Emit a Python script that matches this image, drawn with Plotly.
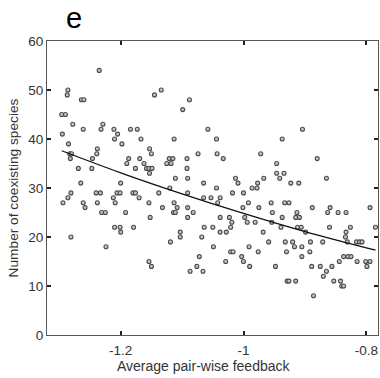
import plotly.graph_objects as go

# Average pair-wise feedback (x) and number of coexisting species (y)
feedback = [
    -1.235, -1.286, -1.287, -1.296, -1.290, -1.295, -1.278, -1.264, -1.260, -1.261,
    -1.285, -1.283, -1.280, -1.282, -1.269, -1.265, -1.247, -1.246, -1.238, -1.239,
    -1.232, -1.229, -1.211, -1.210, -1.205, -1.198, -1.200, -1.190, -1.187, -1.184,
    -1.173, -1.167, -1.176, -1.169, -1.162, -1.158, -1.154, -1.153, -1.149, -1.153,
    -1.150, -1.145, -1.134, -1.113, -1.125, -1.121, -1.118, -1.115, -1.111, -1.120,
    -1.099, -1.092, -1.092, -1.091, -1.088,
    -1.058, -0.904, -1.044, -0.937, -1.074, -1.043, -1.033, -0.972, -0.880, -0.946,
    -0.946, -0.934, -0.941, -1.065, -1.013, -1.009, -0.967, -0.977, -0.923, -0.910,
    -0.865, -1.044, -0.986, -0.978,
    -1.294, -1.286, -1.281, -1.281, -1.261, -1.258, -1.240, -1.233, -1.238, -1.231,
    -1.225, -1.224, -1.212, -1.209, -1.206, -1.192, -1.210, -1.201, -1.200, -1.179,
    -1.201, -1.180, -1.176, -1.170, -1.154, -1.152, -1.154, -1.150, -1.138, -1.132,
    -1.113, -1.114, -1.111, -1.108, -1.103, -1.103, -1.119, -1.091, -1.091, -1.091,
    -1.087,
    -1.065, -1.053, -1.038, -1.042, -1.018, -1.000, -1.082, -1.001, -0.992, -0.975,
    -0.955, -0.933, -0.926, -0.953, -0.937, -0.913, -0.915, -0.909, -0.888, -0.859,
    -0.863, -0.846, -0.833, -0.794, -0.998, -0.994, -0.981, -0.954, -1.038, -1.023,
    -1.019, -1.064, -1.050, -1.021, -1.038, -1.028, -1.068, -0.968, -0.939, -0.912,
    -0.906, -0.899, -0.860, -0.826, -0.785, -0.833, -0.834, -0.959, -0.932, -0.920,
    -0.891, -0.871, -0.831, -0.816, -0.811, -0.807, -1.049, -0.930, -0.917, -0.905,
    -0.892, -1.021, -1.017, -0.991, -0.976, -1.072, -1.029, -1.003, -1.000, -0.990,
    -0.948, -0.905, -0.889, -0.875, -0.856, -0.844, -0.837, -0.830, -0.825, -0.815,
    -0.801, -0.794, -0.799, -1.076, -1.066, -0.865, -0.870, -0.929, -0.926, -0.915,
    -0.853, -0.842, -0.840, -0.837, -0.886,
]
species = [
    54, 50, 49, 45, 45, 41, 43, 48, 48, 42,
    39, 37, 37, 36, 34, 31, 34, 36, 38, 37,
    42, 43, 42, 40, 41, 39, 31, 35, 36, 42,
    42, 40, 34, 36, 35, 34, 34, 33, 34, 38,
    37, 49, 50, 40, 35, 36, 35, 36, 32, 30,
    46, 36, 34, 32, 48,
    42, 42, 40, 40, 37, 37, 36, 37, 36, 35,
    33, 33, 32, 31, 32, 31, 32, 31, 31, 31,
    32, 30, 30, 30,
    27, 28, 29, 20, 27, 26, 29, 29, 27, 25,
    25, 18, 28, 27, 29, 25, 22, 22, 21, 22,
    29, 29, 29, 28, 27, 24, 15, 14, 29, 26,
    27, 25, 25, 26, 21, 20, 19, 26, 24, 29,
    13,
    28, 28, 28, 27, 29, 29, 25, 26, 27, 26,
    27, 27, 27, 25, 24, 25, 24, 24, 26, 26,
    25, 25, 25, 26, 24, 23, 23, 23, 24, 24,
    23, 22, 22, 22, 21, 21, 20, 21, 22, 22,
    22, 21, 22, 22, 22, 21, 20, 19, 19, 19,
    19, 19, 19, 19, 19, 19, 18, 17, 18, 18,
    17, 17, 17, 18, 17, 16, 15, 16, 15, 14,
    14, 16, 14, 14, 14, 15, 16, 16, 16, 15,
    15, 15, 14, 14, 13, 13, 12, 11, 11, 11,
    11, 11, 10, 10, 8,
]

# Fitted trend
fit_x = [-1.296, -1.2, -1.1, -1.0, -0.9, -0.785]
fit_y = [37.6, 33.1, 28.8, 24.8, 21.1, 17.3]

x_ticks = [-1.2, -1.0, -0.8]
x_tick_text = ["-1.2", "-1", "-0.8"]
y_ticks = [0, 10, 20, 30, 40, 50, 60]

FONT = "Liberation Sans, Arial, sans-serif"
W, H = 380, 378
ML, MR, MT, MB = 47, 2, 41, 43
PW, PH = W - ML - MR, H - MT - MB


def px_to_paper(px, py):
    return (px - ML) / PW, (H - MB - py) / PH


fig = go.Figure()
fig.add_trace(go.Scatter(
    x=feedback, y=species, mode="markers",
    marker=dict(size=4, color="#c4c4c4", line=dict(color="#4a4a4a", width=1.1)),
    showlegend=False, hoverinfo="skip",
))
fig.add_trace(go.Scatter(
    x=fit_x, y=fit_y, mode="lines",
    line=dict(color="#111111", width=1.3, shape="spline"),
    showlegend=False, hoverinfo="skip",
))

axis_common = dict(
    showgrid=False, zeroline=False, showline=True, linecolor="#555555", linewidth=1,
    mirror="ticks", ticks="inside", ticklen=4, tickcolor="#222222", tickwidth=1.5,
    tickfont=dict(family=FONT, size=13.5, color="#333333"),
)

tx, ty = px_to_paper(204, 366)
ex, ey = px_to_paper(74, 18)

fig.update_layout(
    width=W, height=H,
    margin=dict(l=ML, r=MR, t=MT, b=MB),
    paper_bgcolor="white", plot_bgcolor="white",
    xaxis=dict(range=[-1.32, -0.781], tickvals=x_ticks, ticktext=x_tick_text,
               ticklabelstandoff=3, **axis_common),
    yaxis=dict(range=[0, 60], tickvals=y_ticks,
               title=dict(text="Number of coexisting species", standoff=6,
                          font=dict(family=FONT, size=13.7, color="#333333")),
               **axis_common),
    annotations=[
        dict(text="e", x=ex, y=ey, xref="paper", yref="paper", showarrow=False,
             xanchor="center", yanchor="middle",
             font=dict(family=FONT, size=29, color="black")),
        dict(text="Average pair-wise feedback", x=tx, y=ty, xref="paper", yref="paper",
             showarrow=False, xanchor="center", yanchor="middle",
             font=dict(family=FONT, size=14, color="#333333")),
    ],
)

fig.write_html("out.html")
